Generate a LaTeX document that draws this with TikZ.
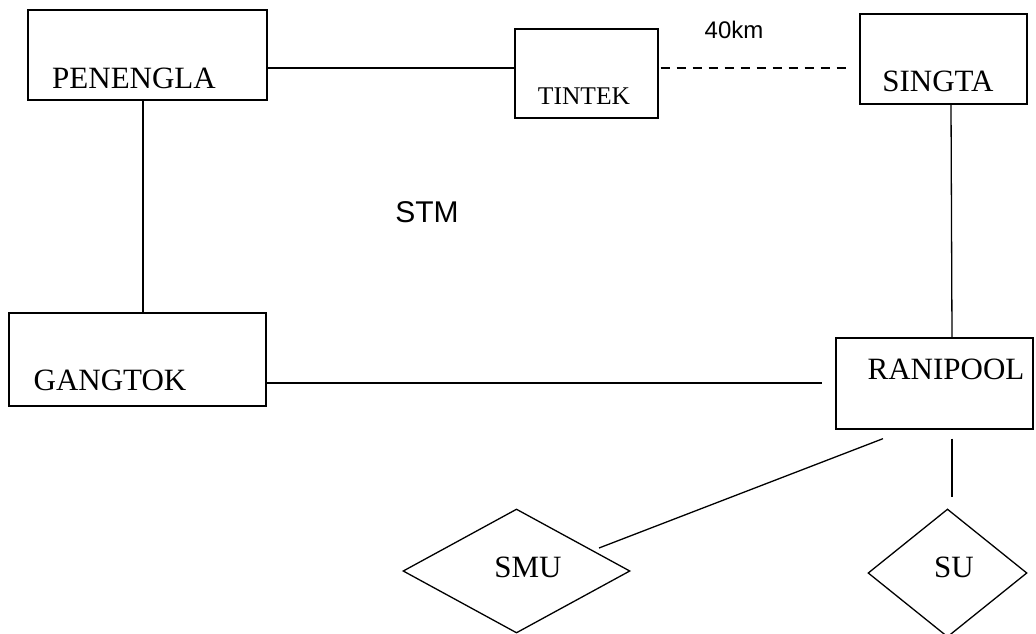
\documentclass[tikz,border=0pt]{standalone}
\usepackage{fontspec}
\setmainfont{Liberation Serif}
\newfontfamily\arialf{Liberation Sans}
\usetikzlibrary{shapes.geometric}
\begin{document}
\begin{tikzpicture}[x=1pt,y=-1pt,
  box/.style={draw,line width=1.3pt,rectangle,inner sep=0pt},
  dia/.style={draw,line width=1.3pt,diamond,inner sep=0pt},
  lbl/.style={anchor=base,inner sep=0pt,font=\fontsize{31}{36}\selectfont},
  smalllbl/.style={anchor=base,inner sep=0pt,font=\fontsize{25.5}{30}\selectfont},
  conn/.style={line width=1.3pt},
  sans/.style={anchor=base,inner sep=0pt,font=\arialf\fontsize{30}{36}\selectfont},
  sanssmall/.style={anchor=base,inner sep=0pt,font=\arialf\fontsize{24}{28}\selectfont}]
\useasboundingbox (0,0) rectangle (1036,633);
% boxes
\node[box,minimum width=239pt,minimum height=90pt] (pen) at (147.5,55) {};
\node[box,minimum width=143pt,minimum height=89pt] (tin) at (586.5,73.5) {};
\node[box,minimum width=167pt,minimum height=90pt] (sin) at (943.5,59) {};
\node[box,minimum width=257pt,minimum height=93pt] (gan) at (137.5,359.5) {};
\node[box,minimum width=197pt,minimum height=91pt] (ran) at (934.5,383.5) {};
\node[dia,minimum width=227pt,minimum height=124pt] (smu) at (516.5,571) {};
\node[dia,minimum width=159pt,minimum height=128pt] (su) at (947.5,573) {};
% labels
\node[lbl] (penl) at (134,88) {PENENGLA};
\node[smalllbl] (tinl) at (584,104) {TINTEK};
\node[lbl] (sinl) at (938,91) {SINGTA};
\node[lbl] (ganl) at (110,390) {GANGTOK};
\node[lbl] (ranl) at (946,379) {RANIPOOL};
\node[lbl] (smul) at (528,577) {SMU};
\node[lbl] (sul) at (954,577) {SU};
\node[sans] (stm) at (427,222) {STM};
\node[sanssmall] (km) at (734,38) {40km};
% connectors
\draw[conn] ([yshift=-13pt]pen.east) -- ([yshift=5.5pt]tin.west);
\draw[conn,dash pattern=on 9pt off 7pt] ([xshift=2pt,yshift=5.5pt]tin.east) -- ([xshift=-8pt,yshift=-9pt]sin.west);
\draw[conn] ([xshift=-4.5pt]pen.south) -- ([xshift=5.5pt]gan.north);
\draw[conn] ([xshift=7.5pt]sin.south) -- ([xshift=17.5pt]ran.north);
\draw[conn] ([yshift=-23.5pt]gan.east) -- ([xshift=-13pt,yshift=0.5pt]ran.west);
\draw[conn] ([xshift=-51.5pt,yshift=-9pt]ran.south) -- ([xshift=82.5pt,yshift=23pt]smu.center);
\draw[conn] ([xshift=17.5pt,yshift=-9pt]ran.south) -- ([xshift=4.5pt,yshift=11pt]su.north);
\end{tikzpicture}
\end{document}
